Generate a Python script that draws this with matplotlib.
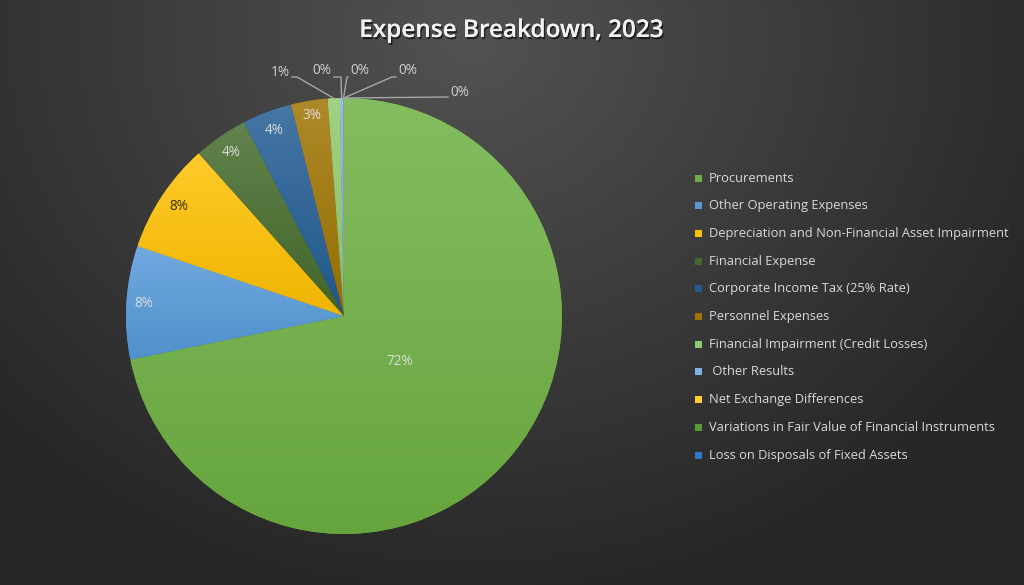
import numpy as np
import matplotlib
matplotlib.use("Agg")
import matplotlib.pyplot as plt
import matplotlib.colors as mcolors
import matplotlib.patheffects as pe
from matplotlib.patches import Rectangle

# ---------------- data ----------------
categories = [
    "Procurements",
    "Other Operating Expenses",
    "Depreciation and Non-Financial Asset Impairment",
    "Financial Expense",
    "Corporate Income Tax (25% Rate)",
    "Personnel Expenses",
    "Financial Impairment (Credit Losses)",
    " Other Results",
    "Net Exchange Differences",
    "Variations in Fair Value of Financial Instruments",
    "Loss on Disposals of Fixed Assets",
]
values = [71.8, 8.4, 8.2, 4.0, 3.7, 2.7, 0.9, 0.25, 0.03, 0.01, 0.01]
colors = ["#6DB042", "#5599D9", "#FFC000", "#446B2B", "#225C93",
          "#9E7300", "#8FC96D", "#7DB3E6", "#FFCD2E", "#5A9A34", "#2F78C2"]
title = "Expense Breakdown, 2023"

# ---------------- figure ----------------
W, H = 1024, 585
fig = plt.figure(figsize=(W / 100, H / 100), dpi=100)

# radial gradient background
bg_ax = fig.add_axes([0, 0, 1, 1])
yy, xx = np.mgrid[0:H, 0:W]
d = np.sqrt(((xx - 470) / 640.0) ** 2 + ((yy - 40) / 560.0) ** 2)
d = np.clip(d, 0, 1)
inner = np.array([0x52, 0x52, 0x52]) / 255
outer = np.array([0x27, 0x27, 0x27]) / 255
img = inner[None, None, :] * (1 - d[..., None]) + outer[None, None, :] * d[..., None]
bg_ax.imshow(img, extent=[0, 1, 0, 1], aspect="auto", origin="upper")
bg_ax.axis("off")

# pie axes
cx, cy, r = 344, 316, 218
ax = fig.add_axes([(cx - r) / W, (H - cy - r) / H, 2 * r / W, 2 * r / H])
ax.set_aspect("equal")
ax.axis("off")

wedges, _ = ax.pie(values, colors=colors, startangle=90, counterclock=False,
                   radius=1.0, wedgeprops=dict(linewidth=0.4, edgecolor="#00000030"))
ax.set_xlim(-1, 1)
ax.set_ylim(-1, 1)

def lighten(c, amt):
    rgb = np.array(mcolors.to_rgb(c))
    return rgb + (1 - rgb) * amt

def darken(c, amt):
    rgb = np.array(mcolors.to_rgb(c))
    return rgb * (1 - amt)

for w, c in zip(wedges, colors):
    bb = w.get_path().get_extents(w.get_patch_transform())
    x0, x1, y0, y1 = bb.x0, bb.x1, bb.y0, bb.y1
    if x1 - x0 < 1e-4 or y1 - y0 < 1e-4:
        continue
    top = lighten(c, 0.16)
    bot = darken(c, 0.06)
    t = np.linspace(0, 1, 64)[:, None]
    grad = top[None, :] * (1 - t) + bot[None, :] * t
    grad = grad[:, None, :].repeat(2, axis=1)
    im = ax.imshow(grad, extent=[x0, x1, y0, y1], origin="upper",
                   aspect="auto", zorder=w.get_zorder() + 0.1)
    im.set_clip_path(w)
ax.set_xlim(-1, 1)
ax.set_ylim(-1, 1)

# percentage labels
total = sum(values)
pcts = [v / total * 100 for v in values]
angles = []
acc = 0
for v in values:
    mid = (acc + v / 2) / total * 360
    angles.append(mid)
    acc += v

label_font = dict(family="Open Sans", fontsize=9.8)
inside_dist = [0.33, 0.92, 0.91, 0.91, 0.91, 0.93]
for i, dist in enumerate(inside_dist):
    th = np.radians(angles[i])
    x, y = dist * np.sin(th), dist * np.cos(th)
    col = "#3a3000" if i == 2 else "#DDDDDD"
    ax.text(x, y, f"{pcts[i]:.0f}%", ha="center", va="center", color=col,
            zorder=10, **label_font)

# outside labels with leader lines (small slices), positions in pixels
out_label_px = [(280, 73), (322, 71), (360, 71), (408, 71), (460, 93)]
elbow_px = [(297, 77), (341, 77), (347, 77), (392, 77), (448, 97)]
anchor_side = ["right", "right", "left", "left", "left"]

def px2data(px, py):
    return ((px - cx) / r, (cy - py) / r)

for k, i in enumerate(range(6, len(values))):
    th = np.radians(angles[i])
    ex, ey = np.sin(th), np.cos(th)
    lx, ly = px2data(*out_label_px[k])
    bx, by = px2data(*elbow_px[k])
    if anchor_side[k] == "right":
        tx = lx + 12 / r
    else:
        tx = lx - 12 / r
    ax.plot([ex, bx, tx], [ey, by, by], color="#A6A6A6", lw=1.0,
            clip_on=False, zorder=9)
    ax.text(lx, ly, f"{pcts[i]:.0f}%", ha="center", va="center",
            color="#D0D0D0", clip_on=False, zorder=10, **label_font)

# title
fig.text(511 / W, 1 - 31 / H, title, ha="center", va="center",
         fontsize=17.5, fontweight="semibold", family="Open Sans", color="#F2F2F2",
         path_effects=[pe.withSimplePatchShadow(offset=(1, -1.5), shadow_rgbFace="black", alpha=0.6),
                       pe.Normal()])

# legend (manual, matches Excel layout)
leg_x = 698
leg_y0 = 178
leg_dy = 27.7
sq = 7
for i, (cat, c) in enumerate(zip(categories, colors)):
    py = leg_y0 + i * leg_dy
    fig.patches.append(Rectangle(((leg_x - sq / 2) / W, 1 - (py + sq / 2) / H),
                                 sq / W, sq / H, transform=fig.transFigure,
                                 facecolor=c, edgecolor="none"))
    fig.text((leg_x + 11) / W, 1 - py / H, cat, ha="left", va="center",
             color="#D9D9D9", family="Open Sans", fontsize=9.3)

fig.savefig("out.png", dpi=100)
